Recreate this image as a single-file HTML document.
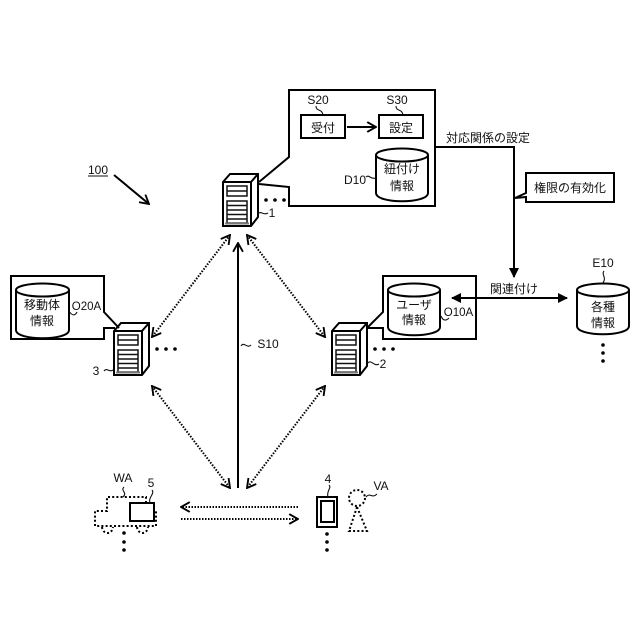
<!DOCTYPE html>
<html><head><meta charset="utf-8"><style>
html,body{margin:0;padding:0;background:#fff}
svg{display:block}
text{font-family:"Liberation Sans","Noto Sans CJK JP",sans-serif;font-size:12px;fill:#111;text-anchor:middle}
.s{fill:none;stroke:#000;stroke-width:2}
.t{fill:none;stroke:#111;stroke-width:1.1}
.d{fill:none;stroke:#000;stroke-width:2;stroke-dasharray:1.5 1.5}
.c{fill:none;stroke:#000;stroke-width:2;stroke-dasharray:2 2.2}
.b{fill:#fff;stroke:#000;stroke-width:2}
</style></head><body>
<svg width="640" height="640" viewBox="0 0 640 640" xmlns="http://www.w3.org/2000/svg">
<defs>
<marker id="a" viewBox="0 0 10 10" refX="9" refY="5" markerWidth="10" markerHeight="10" markerUnits="userSpaceOnUse" orient="auto-start-reverse"><path d="M0 0L10 5L0 10Z" fill="#000"/></marker>
<marker id="o" viewBox="0 0 10 10" refX="9" refY="5" markerWidth="11" markerHeight="11" markerUnits="userSpaceOnUse" orient="auto-start-reverse"><path d="M1 0.5L9 5L1 9.5" fill="none" stroke="#000" stroke-width="1.7"/></marker>
<g id="srv">
<path class="b" d="M0 8L7 0H35V43L28 52H0Z"/>
<path class="s" d="M0 8H28V52M28 8L35 0"/>
<rect x="4" y="12" width="20" height="10" class="t" style="stroke-width:1.5"/>
<path class="t" d="M4 17H24" style="stroke-width:1.5"/>
<rect x="4" y="27" width="20" height="22" class="t" style="stroke-width:1.5"/>
<path class="t" d="M4 31.5H24M4 36H24M4 40.5H24M4 45H24" style="stroke-width:1.5"/>
<path d="M2 49.5H26" stroke="#777" stroke-width="2"/>
</g>
</defs>

<!-- 100 -->
<text x="98" y="174">100</text>
<path class="t" d="M88 176H108"/>
<path d="M114 175L149 204" class="s" marker-end="url(#o)"/>

<!-- Top callout -->
<path class="s" d="M259 182L289 157V90H435V206H289V187L259 184"/>
<rect class="s" x="301" y="115" width="44" height="23"/>
<rect class="s" x="379" y="115" width="44" height="23"/>
<path class="s" d="M347 127H376" marker-end="url(#o)"/>
<text x="318" y="104">S20</text>
<text x="397" y="104">S30</text>
<text x="323" y="132">受付</text>
<text x="401" y="132">設定</text>
<path class="t" d="M316 106C316 112 322 108 323 115M396 106C396 112 402 108 403 115"/>
<path class="b" d="M376 155V193C376 204 428 204 428 193V155"/>
<ellipse class="b" cx="402" cy="155" rx="26" ry="6.5"/>
<text x="402" y="173">紐付け</text>
<text x="402" y="190">情報</text>
<text x="355" y="184">D10</text>
<path class="t" d="M366 177C369 174 371 180 376 178"/>

<!-- Servers -->
<use href="#srv" x="223" y="174"/>
<use href="#srv" x="114" y="323"/>
<use href="#srv" x="332" y="323"/>
<text x="272" y="217">1</text>
<path class="t" d="M258 214C261 210 263 216 268 213"/>
<text x="96" y="375">3</text>
<path class="t" d="M104 371C107 367 109 373 113 370"/>
<text x="383" y="368">2</text>
<path class="t" d="M368 363C371 359 374 367 379 364"/>
<g fill="#000">
<circle cx="266" cy="200" r="1.8"/><circle cx="275" cy="200" r="1.8"/><circle cx="284" cy="200" r="1.8"/>
<circle cx="157" cy="349" r="1.8"/><circle cx="166" cy="349" r="1.8"/><circle cx="175" cy="349" r="1.8"/>
<circle cx="375" cy="349" r="1.8"/><circle cx="384" cy="349" r="1.8"/><circle cx="393" cy="349" r="1.8"/>
<circle cx="603" cy="345" r="1.8"/><circle cx="603" cy="353" r="1.8"/><circle cx="603" cy="361" r="1.8"/>
<circle cx="124" cy="533" r="1.8"/><circle cx="124" cy="542" r="1.8"/><circle cx="124" cy="550" r="1.8"/>
<circle cx="327" cy="534" r="1.8"/><circle cx="327" cy="542" r="1.8"/><circle cx="327" cy="550" r="1.8"/>
</g>

<!-- Left callout -->
<path class="s" d="M119 328L104 312V276H11V339H104V328H115"/>
<path class="b" d="M16 290V330C16 341 69 341 69 330V290"/>
<ellipse class="b" cx="42.5" cy="290" rx="26.5" ry="6.5"/>
<text x="42" y="309">移動体</text>
<text x="42" y="325">情報</text>
<text x="86.500" y="310" style="font-size:11.500px">O20A</text>
<path class="t" d="M69 311C72 316 75 316 77 312"/>

<!-- Right callout -->
<path class="s" d="M367 328L383 312V276H476V339H383V328H368"/>
<path class="b" d="M388 290V327C388 338 440 338 440 327V290"/>
<ellipse class="b" cx="414" cy="290" rx="26" ry="6.5"/>
<text x="414" y="309">ユーザ</text>
<text x="414" y="324">情報</text>
<text x="458.500" y="316" style="font-size:11.500px">O10A</text>
<path class="t" d="M441 316C443 321 446 321 449 318"/>

<!-- Connections right -->
<path class="s" d="M452 298H567" marker-start="url(#a)" marker-end="url(#a)"/>
<text x="514" y="293">関連付け</text>
<path class="s" d="M435 147H514V277" marker-end="url(#a)"/>
<text x="488" y="142">対応関係の設定</text>
<path class="s" d="M515 198L526 193V173H614V202H526V197L515 198"/>
<text x="570" y="192">権限の有効化</text>

<!-- E10 -->
<text x="603" y="267">E10</text>
<path class="t" d="M604 271C601 275 607 277 603 283"/>
<path class="b" d="M577 290V326C577 337 629 337 629 326V290"/>
<ellipse class="b" cx="603" cy="290" rx="26" ry="6.5"/>
<text x="603" y="311">各種</text>
<text x="603" y="327">情報</text>

<!-- Dotted diamond -->
<path class="d" d="M230 235L152 337" marker-start="url(#o)" marker-end="url(#o)"/>
<path class="d" d="M247 235L325 337" marker-start="url(#o)" marker-end="url(#o)"/>
<path class="d" d="M152 386L230 488" marker-start="url(#o)" marker-end="url(#o)"/>
<path class="d" d="M325 386L247 488" marker-start="url(#o)" marker-end="url(#o)"/>
<path class="s" d="M238 488V243" marker-end="url(#o)"/>
<path class="t" d="M241 346C244 341 247 349 251 345"/>
<text x="268" y="348">S10</text>

<!-- Horizontal dotted -->
<path class="d" d="M298 507H181" marker-end="url(#o)"/>
<path class="d" d="M181 519H298" marker-end="url(#o)"/>

<!-- Vehicle -->
<path class="c" d="M146 503V497H107V511H95V526H156V511"/>
<path class="c" d="M102 527C103 535 112 535 113 527M137 527C138 535 147 535 148 527"/>
<rect class="s" x="130" y="503" width="24" height="18"/>
<text x="123" y="482">WA</text>
<text x="151" y="487">5</text>
<path class="t" d="M124 487C120 491 128 492 123 497M152 490C155 494 148 497 150 503"/>

<!-- Device -->
<rect class="s" x="317" y="497" width="20" height="30"/>
<rect class="s" x="321" y="501" width="13" height="21"/>
<text x="328" y="483">4</text>
<path class="t" d="M329 485C332 488 326 491 328 497"/>

<!-- Person -->
<circle class="c" cx="357" cy="498" r="8"/>
<path class="c" d="M357 507L349 531H367Z"/>
<text x="381" y="490">VA</text>
<path class="t" d="M366 497C370 492 372 499 377 494"/>
</svg>
</body></html>
